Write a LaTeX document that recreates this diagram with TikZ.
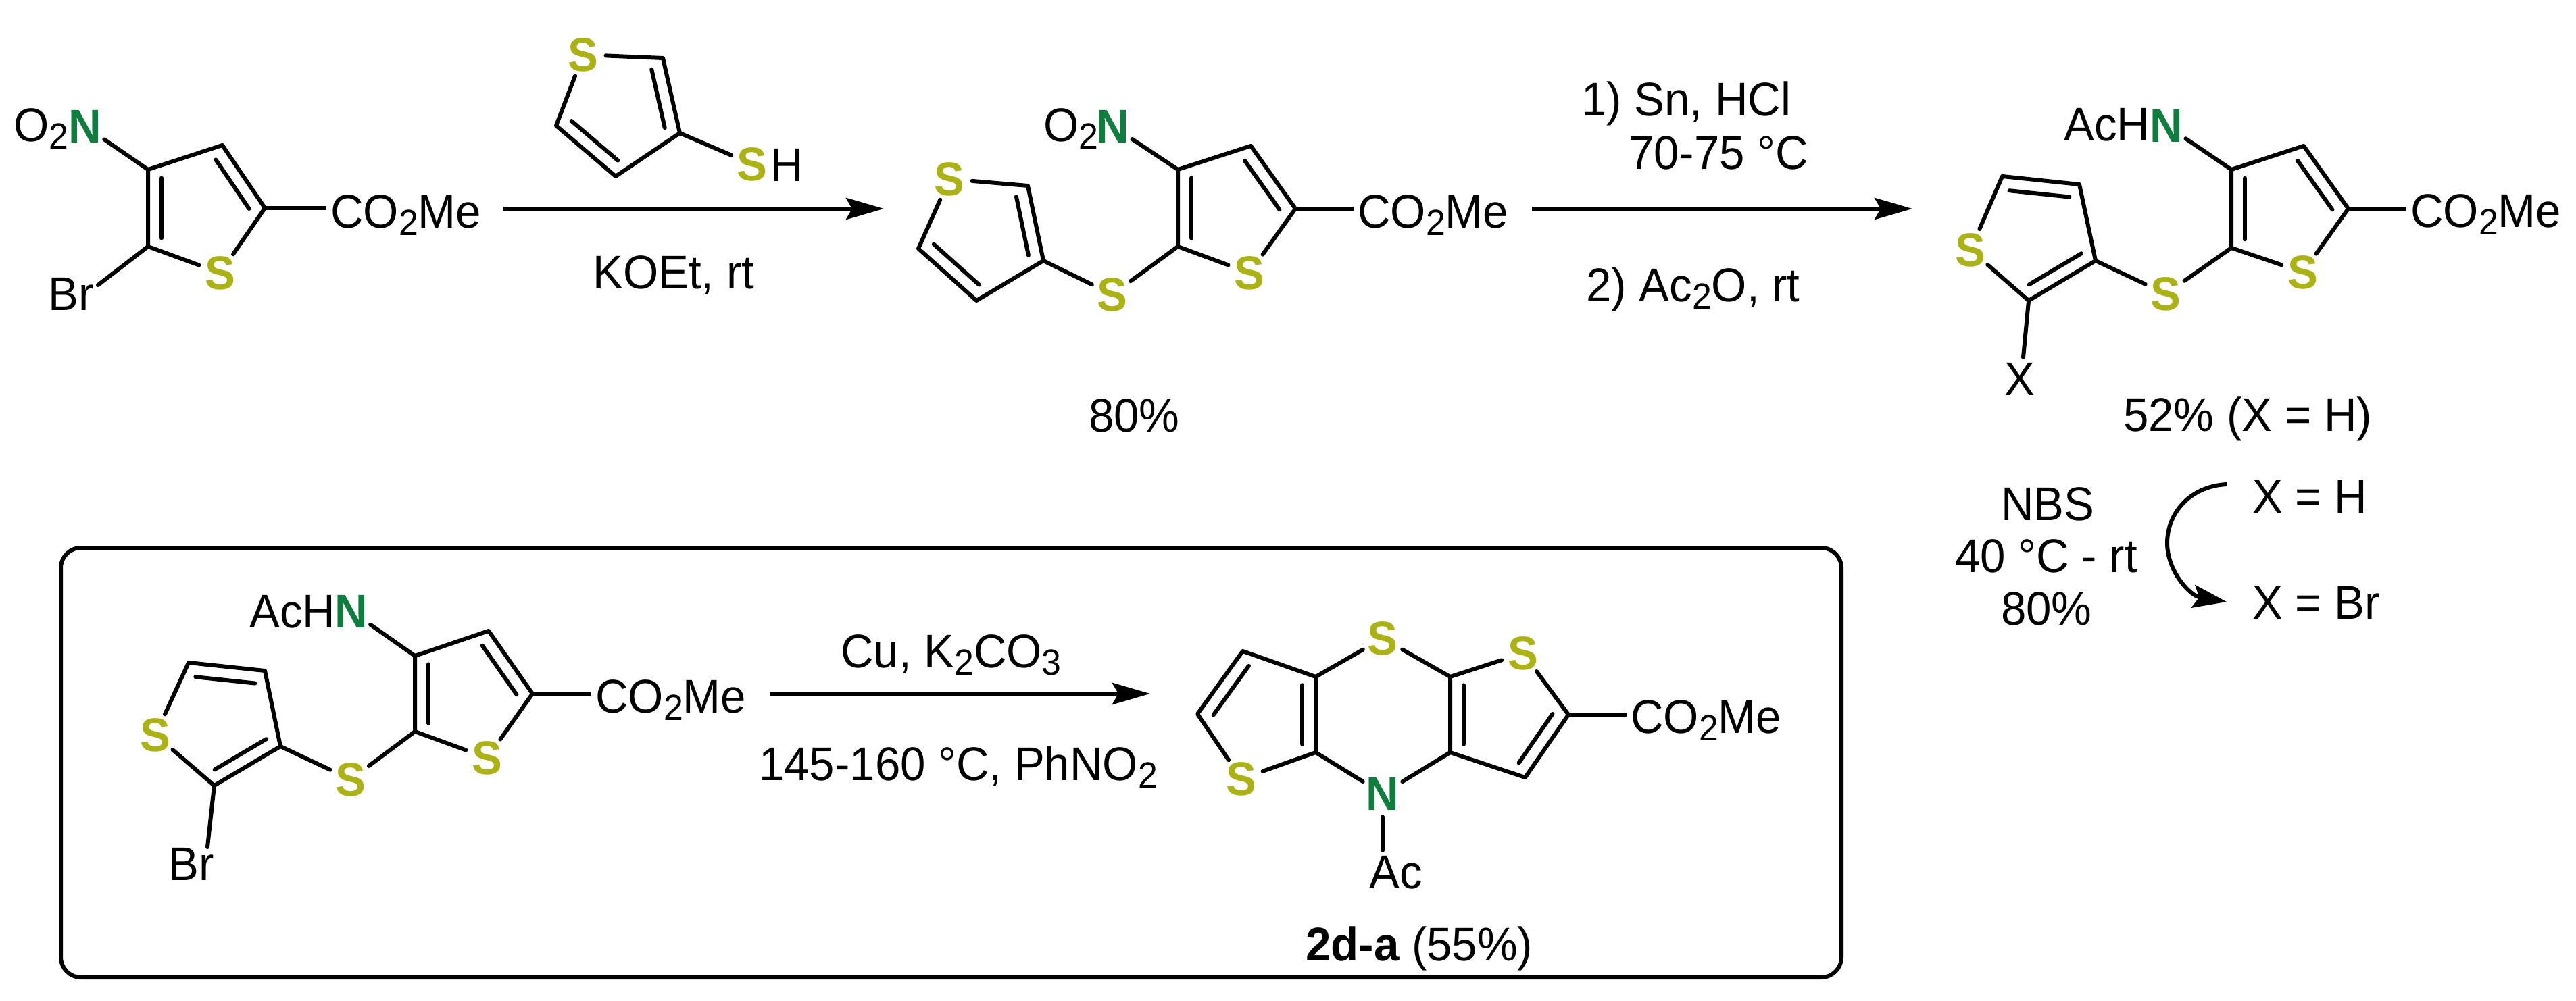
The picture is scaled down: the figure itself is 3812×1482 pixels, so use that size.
\documentclass[tikz,border=0pt]{standalone}
\usepackage{fontspec}
\setmainfont[FakeStretch=0.96]{Liberation Sans}
\usetikzlibrary{calc,arrows.meta}
\definecolor{sulf}{RGB}{170,178,20}
\definecolor{nitro}{RGB}{15,125,62}
\newcommand\sbb[1]{\raisebox{-11pt}{\fontsize{54}{54}\selectfont #1}}
\newcommand\dbl[2]{\draw[bond] ($(#1)!.11!(#2)!20pt!90:(#2)$) -- ($(#1)!.89!(#2)!20pt!90:(#2)$);}
\tikzset{
  bond/.style={line width=6pt,line cap=round,line join=round,black},
  rarrow/.style={line width=6pt,-{Stealth[length=56pt,width=32pt,inset=9pt]}},
  txt/.style={inner sep=0pt,anchor=base west,font=\fontsize{70}{84}\selectfont},
  atom/.style={circle,inner sep=0pt,minimum size=62pt,font=\fontsize{70}{84}\selectfont\bfseries},
  sa/.style={atom,text=sulf},
  na/.style={atom,text=nitro},
}
\begin{document}
\begin{tikzpicture}[x=1pt,y=-1pt]
\useasboundingbox (0,0) rectangle (3812,1482);
\fill[white] (0,0) rectangle (3812,1482);

% --- Bromo nitro thiophene ---
\coordinate (a1) at (219,251);
\coordinate (a2) at (329,215);
\coordinate (a3) at (392,308);
\coordinate (a5) at (219,365);
\node[sa] (aS) at (326,404) {S};
\node[na] (aN) at (126,187) {N};
\node[txt] (aO) at (20,210) {O\sbb{2}};
\node[txt] (aBr) at (71,459) {Br};
\coordinate (aBrEnd) at (145,422);
\node[txt] (aE) at (489,337) {CO\sbb{2}Me};
\draw[bond] (aS) -- (a3) -- (a2) -- (a1) -- (a5) -- (aS);
\dbl{a1}{a5} \dbl{a3}{a2}
\draw[bond] (a1) -- (aN);
\draw[bond] (a5) -- (aBrEnd);
\draw[bond,shorten >=6pt,line cap=butt] (a3) -- (a3 -| aE.west);

% --- Thiol ---
\node[sa] (bS) at (863,81) {S};
\coordinate (b2) at (981,86);
\coordinate (b3) at (1006,197);
\coordinate (b4) at (911,261);
\coordinate (b5) at (823,186);
\node[sa] (bSH) at (1113,243) {S};
\node[txt] (bH) at (1140,268) {H};
\draw[bond] (bS) -- (b2) -- (b3) -- (b4) -- (b5) -- (bS);
\dbl{b5}{b4} \dbl{b3}{b2}
\draw[bond] (b3) -- (bSH);

% --- Arrow 1 ---
\coordinate (r1s) at (745,309);
\coordinate (r1e) at (1308,309);
\draw[rarrow] (r1s) -- (r1e);
\node[txt] (r1t) at (877,427) {KOEt, rt};

% --- Nitro sulfide ---
\node[sa] (cS) at (1405,265) {S};
\coordinate (c2) at (1521,275);
\coordinate (c3) at (1544,386);
\coordinate (c4) at (1445,445);
\coordinate (c5) at (1359,368);
\node[sa] (cdS) at (1646,436) {S};
\coordinate (d1) at (1743,251);
\coordinate (d2) at (1851,216);
\coordinate (d3) at (1917,309);
\coordinate (d5) at (1743,365);
\node[sa] (dS) at (1849,404) {S};
\node[na] (dN) at (1647,187) {N};
\node[txt] (dO) at (1544,210) {O\sbb{2}};
\node[txt] (dE) at (2009,337) {CO\sbb{2}Me};
\node[txt] (cY) at (1611,639) {80\%};
\draw[bond] (cS) -- (c2) -- (c3) -- (c4) -- (c5) -- (cS);
\dbl{c5}{c4} \dbl{c3}{c2}
\draw[bond] (dS) -- (d3) -- (d2) -- (d1) -- (d5) -- (dS);
\dbl{d1}{d5} \dbl{d3}{d2}
\draw[bond] (c3) -- (cdS) -- (d5);
\draw[bond] (d1) -- (dN);
\draw[bond,shorten >=6pt,line cap=butt] (d3) -- (d3 -| dE.west);

% --- Arrow 2 ---
\coordinate (r2s) at (2267,309);
\coordinate (r2e) at (2830,309);
\draw[rarrow] (r2s) -- (r2e);
\node[txt] (r2a) at (2340,172) {1) Sn, HCl};
\node[txt] (r2b) at (2410,251) {70-75 °C};
\node[txt] (r2c) at (2347,446) {2) Ac\sbb{2}O, rt};

% --- Acetamide ---
\coordinate (e1) at (3302,251);
\coordinate (e2) at (3409,216);
\coordinate (e3) at (3475,309);
\coordinate (e5) at (3302,367);
\node[sa] (eS) at (3408,403) {S};
\node[na] (eN) at (3206,186) {N};
\node[txt] (eA) at (3054,209) {AcH};
\node[txt] (eE) at (3567,336) {CO\sbb{2}Me};
\node[sa] (efS) at (3205,435) {S};
\coordinate (f1) at (3077,273);
\coordinate (f2) at (2963,261);
\node[sa] (fS) at (2916,370) {S};
\coordinate (f4) at (3002,445);
\coordinate (f5) at (3101,386);
\node[txt] (fX) at (2966,585) {X};
\coordinate (fXEnd) at (2994,529);
\node[txt] (eY) at (3142,638) {52\% (X = H)};
\draw[bond] (eS) -- (e3) -- (e2) -- (e1) -- (e5) -- (eS);
\dbl{e1}{e5} \dbl{e3}{e2}
\draw[bond] (f2) -- (f1) -- (f5) -- (f4) -- (fS) -- (f2);
\dbl{f1}{f2} \dbl{f4}{f5}
\draw[bond] (f5) -- (efS) -- (e5);
\draw[bond] (e1) -- (eN);
\draw[bond] (f4) -- (fXEnd);
\draw[bond,shorten >=6pt,line cap=butt] (e3) -- (e3 -| eE.west);

% --- NBS step ---
\node[txt] (n1) at (2961,770) {NBS};
\node[txt] (n2) at (2893,847) {40 °C - rt};
\node[txt] (n3) at (2961,925) {80\%};
\node[txt] (x1) at (3333,759) {X = H};
\node[txt] (x2) at (3333,916) {X = Br};
\coordinate (cvs) at (3295,717);
\coordinate (cvm) at (3207,804);
\coordinate (cve) at (3295,891);
\draw[line width=6pt,-{Stealth[length=50pt,width=34pt,inset=9pt]}]
  (cvs) .. controls (3240,720) and (3207,760) .. (cvm)
  .. controls (3207,845) and (3240,882) .. (cve);

% --- Box ---
\draw[line width=6pt,rounded corners=30pt] (90,811) rectangle (2725,1447);

% --- Bromo amide ---
\coordinate (g1) at (614,971);
\coordinate (g2) at (723,934);
\coordinate (g3) at (788,1027);
\coordinate (g5) at (614,1083);
\node[sa] (gS) at (721,1122) {S};
\node[na] (gN) at (520,905) {N};
\node[txt] (gA) at (369,929) {AcH};
\node[txt] (gE) at (881,1055) {CO\sbb{2}Me};
\node[sa] (ghS) at (519,1154) {S};
\coordinate (h1) at (392,993);
\coordinate (h2) at (279,981);
\node[sa] (hS) at (230,1088) {S};
\coordinate (h4) at (317,1163);
\coordinate (h5) at (415,1105);
\node[txt] (hBr) at (249,1303) {Br};
\coordinate (hBrEnd) at (307,1254);
\draw[bond] (gS) -- (g3) -- (g2) -- (g1) -- (g5) -- (gS);
\dbl{g1}{g5} \dbl{g3}{g2}
\draw[bond] (h2) -- (h1) -- (h5) -- (h4) -- (hS) -- (h2);
\dbl{h1}{h2} \dbl{h4}{h5}
\draw[bond] (h5) -- (ghS) -- (g5);
\draw[bond] (g1) -- (gN);
\draw[bond] (h4) -- (hBrEnd);
\draw[bond,shorten >=6pt,line cap=butt] (g3) -- (g3 -| gE.west);

% --- Arrow 3 ---
\coordinate (r3s) at (1140,1027);
\coordinate (r3e) at (1702,1027);
\draw[rarrow] (r3s) -- (r3e);
\node[txt] (r3a) at (1244,988) {Cu, K\sbb{2}CO\sbb{3}};
\node[txt] (r3b) at (1123,1155) {145-160 °C, PhNO\sbb{2}};

% --- Tricycle ---
\node[sa] (iSt) at (2046,945) {S};
\node[sa] (jS) at (2254,967) {S};
\node[sa] (iS) at (1837,1153) {S};
\node[na] (iN) at (2046,1175) {N};
\coordinate (i1) at (1839,964);
\coordinate (i2) at (1947,1002);
\coordinate (i3) at (1947,1114);
\coordinate (i5) at (1772,1057);
\coordinate (j1) at (2146,1002);
\coordinate (j2) at (2146,1114);
\coordinate (j3) at (2257,1151);
\coordinate (j4) at (2321,1058);
\node[txt] (jE) at (2413,1085) {CO\sbb{2}Me};
\node[txt] (iAc) at (2026,1315) {Ac};
\coordinate (iAcEnd) at (2046,1259);
\node[txt] (iY) at (1932,1422) {\bfseries 2d-a\mdseries{} (55\%)};
\draw[bond] (i1) -- (i2) -- (i3) -- (iS) -- (i5) -- (i1);
\dbl{i1}{i5} \dbl{i3}{i2}
\draw[bond] (j1) -- (jS) -- (j4) -- (j3) -- (j2) -- (j1);
\dbl{j1}{j2} \dbl{j3}{j4}
\draw[bond] (i2) -- (iSt) -- (j1);
\draw[bond] (i3) -- (iN) -- (j2);
\draw[bond] (iN) -- (iAcEnd);
\draw[bond,shorten >=6pt,line cap=butt] (j4) -- (j4 -| jE.west);
\end{tikzpicture}
\end{document}
